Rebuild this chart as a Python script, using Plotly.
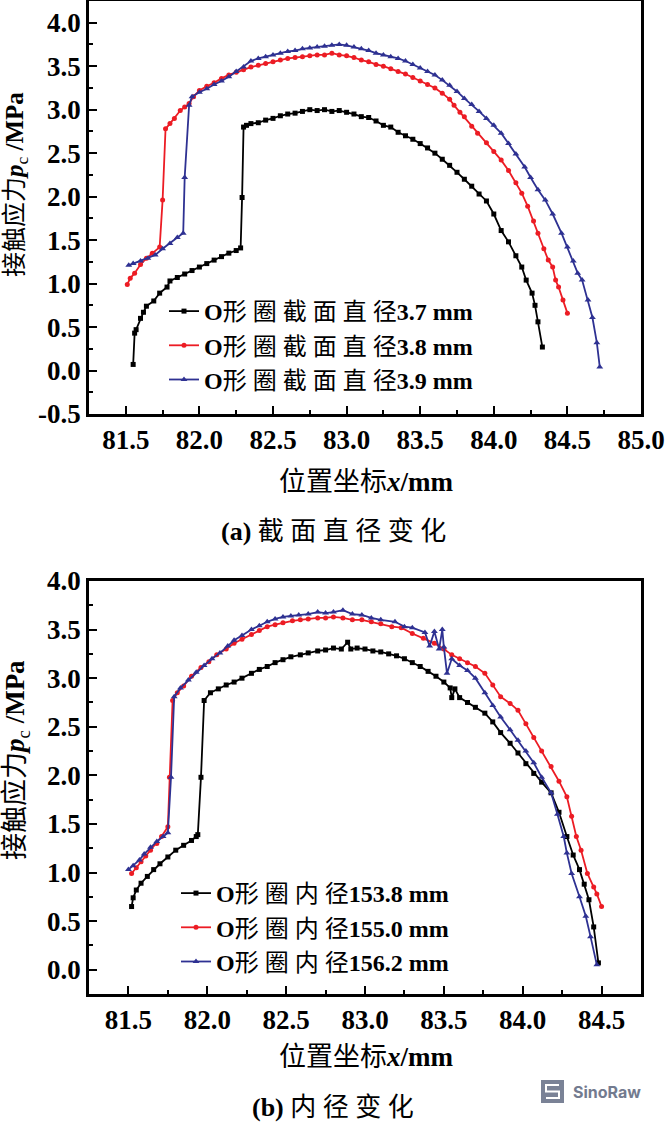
import plotly.graph_objects as go

# ---------------- data: (a) cross-section diameter ----------------
a_black_x = [81.55, 81.56, 81.57, 81.60, 81.62, 81.64, 81.69, 81.73, 81.78, 81.80, 81.85, 81.90, 81.95, 82.00,
             82.05, 82.10, 82.15, 82.20, 82.25, 82.28, 82.29, 82.30, 82.32, 82.35, 82.40, 82.45, 82.50, 82.55,
             82.60, 82.65, 82.70, 82.75, 82.80, 82.85, 82.90, 82.95, 83.00, 83.05, 83.10, 83.15, 83.20, 83.25,
             83.30, 83.35, 83.40, 83.45, 83.50, 83.55, 83.60, 83.65, 83.70, 83.75, 83.80, 83.85, 83.90, 83.95,
             84.00, 84.05, 84.10, 84.15, 84.19, 84.22, 84.26, 84.28, 84.30, 84.33]
a_black_y = [0.07, 0.43, 0.47, 0.60, 0.67, 0.74, 0.80, 0.89, 0.96, 1.03, 1.07, 1.11, 1.15, 1.19,
             1.23, 1.27, 1.31, 1.35, 1.38, 1.41, 1.99, 2.80, 2.82, 2.84, 2.85, 2.88, 2.90, 2.93,
             2.95, 2.96, 2.98, 3.00, 2.99, 3.00, 2.98, 2.99, 2.97, 2.95, 2.92, 2.91, 2.87, 2.82,
             2.80, 2.74, 2.70, 2.66, 2.61, 2.56, 2.50, 2.43, 2.36, 2.28, 2.20, 2.12, 2.03, 1.95,
             1.80, 1.61, 1.48, 1.32, 1.19, 1.04, 0.89, 0.75, 0.56, 0.27]

a_red_x = [81.51, 81.53, 81.56, 81.60, 81.64, 81.68, 81.73, 81.75, 81.77, 81.80, 81.83, 81.87, 81.90, 81.93,
           81.96, 82.00, 82.05, 82.10, 82.15, 82.20, 82.25, 82.30, 82.35, 82.40, 82.45, 82.50, 82.55, 82.60,
           82.65, 82.70, 82.75, 82.80, 82.85, 82.90, 82.95, 83.00, 83.05, 83.10, 83.15, 83.20, 83.25, 83.30,
           83.35, 83.40, 83.45, 83.50, 83.55, 83.60, 83.65, 83.70, 83.73, 83.77, 83.80, 83.85, 83.89, 83.95,
           84.00, 84.05, 84.10, 84.15, 84.19, 84.23, 84.27, 84.30, 84.34, 84.37, 84.40, 84.42, 84.44, 84.47, 84.50]
a_red_y = [0.99, 1.06, 1.12, 1.22, 1.29, 1.35, 1.42, 1.96, 2.78, 2.84, 2.90, 2.99, 3.03, 3.07,
           3.15, 3.22, 3.27, 3.31, 3.36, 3.40, 3.43, 3.46, 3.49, 3.51, 3.53, 3.55, 3.57, 3.59,
           3.60, 3.61, 3.62, 3.63, 3.63, 3.65, 3.63, 3.62, 3.60, 3.57, 3.55, 3.52, 3.50, 3.47,
           3.44, 3.41, 3.37, 3.33, 3.29, 3.25, 3.19, 3.12, 3.05, 2.97, 2.92, 2.81, 2.73, 2.62,
           2.52, 2.42, 2.30, 2.16, 2.04, 1.89, 1.72, 1.58, 1.40, 1.27, 1.19, 1.04, 0.96, 0.81, 0.66]

a_blue_x = [81.52, 81.55, 81.60, 81.65, 81.70, 81.75, 81.80, 81.85, 81.89, 81.90, 81.93, 81.95, 82.00, 82.05,
            82.10, 82.15, 82.20, 82.25, 82.30, 82.35, 82.40, 82.45, 82.50, 82.55, 82.60, 82.65, 82.70, 82.75,
            82.80, 82.85, 82.90, 82.95, 83.00, 83.05, 83.10, 83.15, 83.20, 83.25, 83.30, 83.35, 83.40, 83.45,
            83.50, 83.55, 83.60, 83.65, 83.70, 83.75, 83.80, 83.85, 83.90, 83.95, 84.00, 84.05, 84.10, 84.15,
            84.21, 84.25, 84.30, 84.35, 84.40, 84.46, 84.50, 84.54, 84.57, 84.60, 84.64, 84.67, 84.70, 84.72]
a_blue_y = [1.21, 1.23, 1.26, 1.29, 1.33, 1.40, 1.46, 1.53, 1.58, 2.22, 3.05, 3.15, 3.20, 3.24,
            3.29, 3.33, 3.38, 3.44, 3.49, 3.56, 3.59, 3.61, 3.63, 3.65, 3.67, 3.68, 3.70, 3.71,
            3.72, 3.73, 3.74, 3.75, 3.74, 3.72, 3.70, 3.68, 3.65, 3.63, 3.61, 3.59, 3.56, 3.52,
            3.48, 3.44, 3.40, 3.34, 3.28, 3.21, 3.13, 3.06, 2.98, 2.90, 2.82, 2.73, 2.61, 2.49,
            2.34, 2.22, 2.08, 1.96, 1.80, 1.58, 1.42, 1.26, 1.12, 1.04, 0.81, 0.61, 0.32, 0.04]

# ---------------- data: (b) inner diameter ----------------
b_black_x = [81.52, 81.53, 81.55, 81.58, 81.62, 81.66, 81.70, 81.75, 81.80, 81.85, 81.90, 81.93, 81.94, 81.96,
             81.98, 82.02, 82.07, 82.12, 82.17, 82.22, 82.28, 82.33, 82.38, 82.43, 82.48, 82.53, 82.59, 82.64,
             82.70, 82.75, 82.80, 82.85, 82.89, 82.91, 82.95, 83.00, 83.05, 83.10, 83.15, 83.20, 83.25, 83.30,
             83.35, 83.40, 83.45, 83.50, 83.54, 83.55, 83.57, 83.60, 83.65, 83.70, 83.76, 83.81, 83.86, 83.92,
             83.97, 84.02, 84.07, 84.12, 84.18, 84.23, 84.28, 84.32, 84.36, 84.39, 84.42, 84.45, 84.48]
b_black_y = [0.65, 0.74, 0.82, 0.89, 0.96, 1.03, 1.09, 1.16, 1.23, 1.28, 1.33, 1.37, 1.39, 1.98,
             2.77, 2.85, 2.89, 2.93, 2.96, 3.00, 3.05, 3.09, 3.12, 3.16, 3.19, 3.22, 3.24, 3.26,
             3.28, 3.29, 3.31, 3.30, 3.37, 3.30, 3.31, 3.30, 3.28, 3.27, 3.25, 3.23, 3.20, 3.16,
             3.12, 3.07, 3.02, 2.96, 2.90, 2.80, 2.89, 2.80, 2.75, 2.70, 2.64, 2.55, 2.44, 2.33,
             2.23, 2.12, 2.02, 1.93, 1.82, 1.62, 1.37, 1.18, 1.03, 0.88, 0.72, 0.44, 0.07]

b_red_x = [81.52, 81.55, 81.58, 81.61, 81.64, 81.68, 81.71, 81.75, 81.76, 81.78, 81.81, 81.85, 81.90, 81.96,
           82.01, 82.06, 82.12, 82.17, 82.22, 82.28, 82.33, 82.38, 82.43, 82.48, 82.54, 82.59, 82.64, 82.70,
           82.75, 82.80, 82.86, 82.92, 82.98, 83.04, 83.10, 83.17, 83.23, 83.30, 83.37, 83.44, 83.50, 83.55,
           83.60, 83.65, 83.70, 83.76, 83.81, 83.86, 83.92, 83.97, 84.02, 84.07, 84.12, 84.18, 84.23, 84.28,
           84.31, 84.34, 84.37, 84.41, 84.45, 84.47, 84.50]
b_red_y = [0.99, 1.05, 1.11, 1.17, 1.23, 1.30, 1.37, 1.47, 1.98, 2.77, 2.85, 2.92, 3.02, 3.11,
           3.17, 3.24, 3.30, 3.36, 3.40, 3.45, 3.49, 3.53, 3.55, 3.57, 3.59, 3.60, 3.61, 3.62,
           3.62, 3.63, 3.62, 3.60, 3.60, 3.58, 3.56, 3.53, 3.52, 3.46, 3.41, 3.36, 3.30, 3.24,
           3.20, 3.16, 3.12, 3.05, 2.93, 2.81, 2.74, 2.67, 2.53, 2.39, 2.25, 2.09, 1.94, 1.78,
           1.58, 1.37, 1.23, 0.99, 0.85, 0.78, 0.65]

b_blue_x = [81.50, 81.53, 81.57, 81.60, 81.64, 81.68, 81.72, 81.75, 81.77, 81.79, 81.83, 81.88, 81.93, 81.98,
            82.03, 82.08, 82.13, 82.17, 82.22, 82.28, 82.33, 82.38, 82.43, 82.48, 82.53, 82.58, 82.64, 82.70,
            82.75, 82.80, 82.86, 82.92, 82.98, 83.04, 83.10, 83.19, 83.25, 83.30, 83.38, 83.41, 83.44, 83.47,
            83.49, 83.50, 83.52, 83.55, 83.60, 83.65, 83.70, 83.76, 83.81, 83.86, 83.92, 83.97, 84.02, 84.07,
            84.12, 84.18, 84.22, 84.26, 84.28, 84.31, 84.36, 84.40, 84.43, 84.47]
b_blue_y = [1.03, 1.07, 1.13, 1.19, 1.26, 1.32, 1.37, 1.41, 1.98, 2.81, 2.90, 2.98, 3.06, 3.13,
            3.20, 3.26, 3.33, 3.39, 3.44, 3.50, 3.54, 3.58, 3.61, 3.63, 3.64, 3.65, 3.66, 3.68,
            3.67, 3.68, 3.70, 3.66, 3.65, 3.62, 3.60, 3.58, 3.53, 3.52, 3.47, 3.33, 3.48, 3.30,
            3.50, 3.32, 3.05, 3.20, 3.13, 3.08, 3.00, 2.85, 2.72, 2.60, 2.47, 2.36, 2.25, 2.13,
            1.98, 1.82, 1.60, 1.37, 1.20, 0.99, 0.75, 0.55, 0.34, 0.05]

a_names = ["<b>O</b>形 圈 截 面 直 径<b>3.7 mm</b>", "<b>O</b>形 圈 截 面 直 径<b>3.8 mm</b>",
           "<b>O</b>形 圈 截 面 直 径<b>3.9 mm</b>"]
b_names = ["<b>O</b>形 圈 内 径<b>153.8 mm</b>", "<b>O</b>形 圈 内 径<b>155.0 mm</b>",
           "<b>O</b>形 圈 内 径<b>156.2 mm</b>"]

a_xticks = [81.5, 82.0, 82.5, 83.0, 83.5, 84.0, 84.5, 85.0]
a_yticks = [-0.5, 0.0, 0.5, 1.0, 1.5, 2.0, 2.5, 3.0, 3.5, 4.0]
b_xticks = [81.5, 82.0, 82.5, 83.0, 83.5, 84.0, 84.5]
b_yticks = [0.0, 0.5, 1.0, 1.5, 2.0, 2.5, 3.0, 3.5, 4.0]

colors = ["#000000", "#ec1c24", "#2e3192"]
symbols = ["square", "circle", "triangle-up"]
msizes = [5, 5, 6]

W, H = 668, 1123
FONT = "Liberation Serif, Noto Sans CJK SC, serif"

fig = go.Figure()

a_data = [(a_black_x, a_black_y), (a_red_x, a_red_y), (a_blue_x, a_blue_y)]
b_data = [(b_black_x, b_black_y), (b_red_x, b_red_y), (b_blue_x, b_blue_y)]

for i, (xs, ys) in enumerate(a_data):
    fig.add_trace(go.Scatter(x=xs, y=ys, mode="lines+markers", name=a_names[i],
                             line=dict(color=colors[i], width=1.8),
                             marker=dict(symbol=symbols[i], size=msizes[i], color=colors[i]),
                             xaxis="x", yaxis="y", legend="legend"))
for i, (xs, ys) in enumerate(b_data):
    fig.add_trace(go.Scatter(x=xs, y=ys, mode="lines+markers", name=b_names[i],
                             line=dict(color=colors[i], width=1.8),
                             marker=dict(symbol=symbols[i], size=msizes[i], color=colors[i]),
                             xaxis="x2", yaxis="y2", legend="legend2"))

def px_x(p):
    return p / W

def px_y(p):
    return 1 - p / H

tickfont = dict(family="Liberation Serif, serif", size=27, color="black", weight="bold")
common = dict(showline=True, linewidth=2.5, linecolor="black", mirror=True, ticks="inside",
              ticklen=8, tickwidth=2, tickcolor="black", showgrid=False, zeroline=False,
              tickfont=tickfont, automargin=False)
minor = dict(ticks="inside", ticklen=4, tickwidth=2, tickcolor="black", showgrid=False)

xdom = [px_x(89), px_x(641)]
legfont = dict(family=FONT, size=24, color="black")
fig.update_layout(
    width=W, height=H, margin=dict(l=0, r=0, t=0, b=0, autoexpand=False),
    paper_bgcolor="white", plot_bgcolor="white",
    xaxis=dict(domain=xdom, range=[81.25, 85.0], anchor="y", tickvals=a_xticks,
               ticktext=[f"{v:.1f}" for v in a_xticks], minor=dict(dtick=0.25, **minor), **common),
    yaxis=dict(domain=[px_y(414), px_y(1)], range=[-0.5, 4.25], anchor="x", tickvals=a_yticks,
               ticktext=[f"{v:.1f}" for v in a_yticks], minor=dict(dtick=0.25, tick0=0, **minor), **common),
    xaxis2=dict(domain=xdom, range=[81.25, 84.75], anchor="y2", tickvals=b_xticks,
                ticktext=[f"{v:.1f}" for v in b_xticks], minor=dict(dtick=0.25, **minor), **common),
    yaxis2=dict(domain=[px_y(994), px_y(581)], range=[-0.25, 4.0], anchor="x2", tickvals=b_yticks,
                ticktext=[f"{v:.1f}" for v in b_yticks], minor=dict(dtick=0.25, tick0=0, **minor), **common),
    legend=dict(x=px_x(164), y=px_y(289), xanchor="left", yanchor="top", bgcolor="rgba(0,0,0,0)",
                font=legfont, itemwidth=30, tracegroupgap=0),
    legend2=dict(x=px_x(176), y=px_y(871), xanchor="left", yanchor="top", bgcolor="rgba(0,0,0,0)",
                 font=legfont, itemwidth=30, tracegroupgap=0),
    showlegend=True,
)

def text_ann(text, x, y, size, angle=0, family=FONT, color="black", xanchor="center"):
    return dict(text=text, x=px_x(x), y=px_y(y), xref="paper", yref="paper", showarrow=False,
                textangle=angle, xanchor=xanchor, yanchor="middle",
                font=dict(family=family, size=size, color=color))

ann = [
    text_ann("接触应力<b><i>p</i></b><sub>c</sub> <b>/MPa</b>", 17, 185, 25, angle=-90),
    text_ann("接触应力<b><i>p</i></b><sub>c</sub> <b>/MPa</b>", 17, 760, 27, angle=-90),
    text_ann("位置坐标<b><i>x</i>/mm</b>", 366, 482, 27),
    text_ann("位置坐标<b><i>x</i>/mm</b>", 366, 1057, 27),
    text_ann("<b>(a)</b> 截 面 直 径 变 化", 333, 531, 26),
    text_ann("<b>(b)</b> 内 径 变 化", 333, 1107, 26),
    text_ann("<b>SinoRaw</b>", 571, 1092, 16, family="Inter, Roboto, sans-serif", color="#737b8f",
             xanchor="left"),
]
fig.update_layout(annotations=ann)
fig.add_shape(type="rect", xref="paper", yref="paper", x0=px_x(541), x1=px_x(564), y0=px_y(1103), y1=px_y(1080),
              fillcolor="#7a8296", line=dict(width=0))
# white squared "S" glyph inside the logo square
fig.add_shape(type="path", xref="paper", yref="paper",
              path=(f"M {px_x(559)} {px_y(1085)} L {px_x(546)} {px_y(1085)} L {px_x(546)} {px_y(1091.5)} "
                    f"L {px_x(559)} {px_y(1091.5)} L {px_x(559)} {px_y(1098)} L {px_x(546)} {px_y(1098)}"),
              line=dict(color="white", width=2))

fig.write_html("out.html")
